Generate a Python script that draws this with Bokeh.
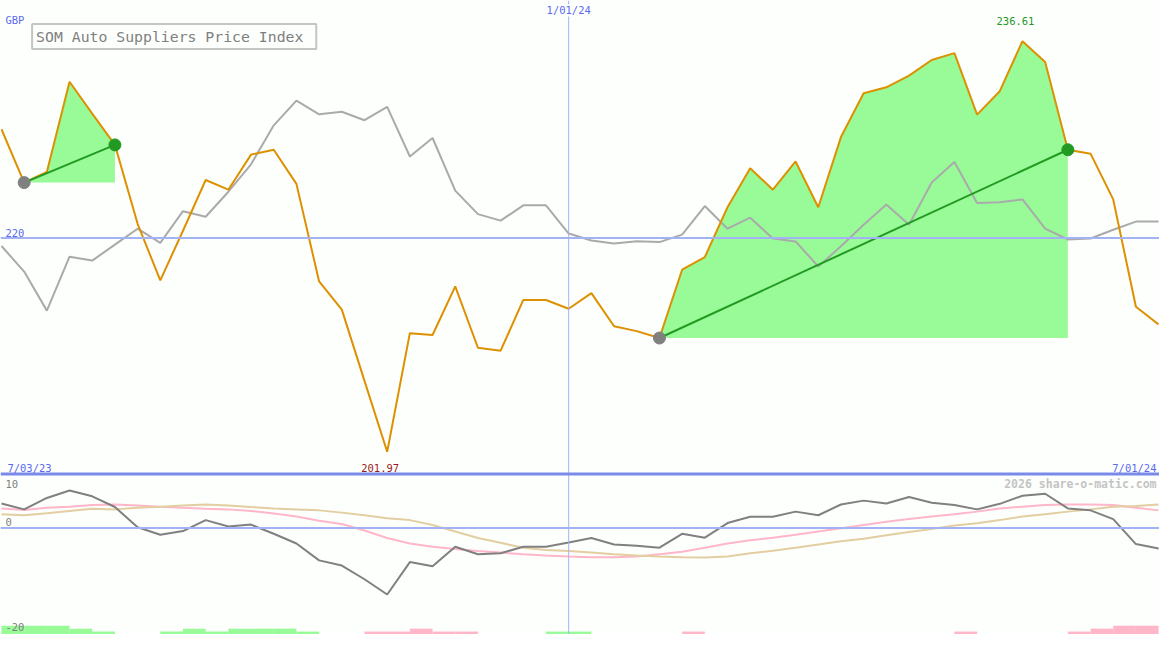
import pandas as pd
from bokeh.plotting import figure
from bokeh.models import Range1d, Span, Label, ColumnDataSource
from bokeh.embed import file_html
from bokeh.resources import INLINE

# ---------------- data ----------------
dates = pd.date_range("2023-07-10", periods=52, freq="7D")

price = [229.18, 224.68, 225.58, 233.19, 230.50, 227.86, 221.20, 216.43, 220.62, 224.90,
         224.08, 227.04, 227.45, 224.57, 216.34, 213.96, 207.95, 201.97, 211.98, 211.82,
         215.93, 210.75, 210.50, 214.78, 214.78, 214.04, 215.36, 212.56, 212.15, 211.57,
         217.33, 218.40, 222.60, 225.89, 224.08, 226.46, 222.60, 228.52, 232.22, 232.72,
         233.70, 235.02, 235.60, 230.41, 232.39, 236.61, 234.86, 227.45, 227.12, 223.26,
         214.20, 212.72]

market = [219.33, 217.17, 213.88, 218.43, 218.10, 219.45, 220.79, 219.59, 222.27, 221.80,
          223.91, 226.22, 229.51, 231.59, 230.44, 230.66, 229.94, 231.07, 226.88, 228.44,
          224.00, 222.02, 221.47, 222.76, 222.76, 220.38, 219.80, 219.55, 219.74, 219.66,
          220.29, 222.70, 220.79, 221.72, 219.96, 219.72, 217.60, 219.31, 221.12, 222.84,
          221.12, 224.68, 226.41, 222.95, 223.03, 223.26, 220.79, 219.88, 219.96, 220.70,
          221.39, 221.39]

momentum = [4.66, 3.54, 5.72, 7.15, 6.03, 3.99, 0.13, -1.30, -0.61, 1.49,
            0.26, 0.63, -1.12, -2.98, -6.20, -7.19, -9.80, -12.72, -6.52, -7.32,
            -3.59, -5.03, -4.84, -3.59, -3.59, -2.79, -1.92, -3.17, -3.41, -3.78,
            -1.12, -1.86, 0.93, 2.12, 2.12, 3.11, 2.42, 4.47, 5.21, 4.66,
            5.90, 4.79, 4.36, 3.54, 4.60, 6.15, 6.52, 3.72, 3.35, 1.68,
            -3.09, -3.91]

fast_avg = [3.72, 3.43, 3.85, 4.04, 4.36, 4.47, 4.28, 4.04, 3.85, 3.67,
            3.54, 3.24, 2.74, 2.18, 1.38, 0.74, -0.48, -1.92, -2.98, -3.59,
            -4.02, -4.39, -4.71, -5.03, -5.27, -5.46, -5.59, -5.59, -5.46, -5.03,
            -4.53, -3.78, -2.98, -2.35, -1.86, -1.30, -0.67, -0.06, 0.56, 1.19,
            1.68, 2.18, 2.61, 3.11, 3.72, 4.04, 4.36, 4.47, 4.47, 4.36,
            3.85, 3.35]

slow_avg = [2.61, 2.42, 2.79, 3.24, 3.67, 3.54, 3.85, 4.04, 4.28, 4.47,
            4.28, 3.99, 3.72, 3.54, 3.35, 2.92, 2.42, 1.86, 1.49, 0.56,
            -0.67, -1.92, -2.85, -3.78, -4.21, -4.39, -4.71, -5.03, -5.27, -5.46,
            -5.59, -5.64, -5.46, -4.84, -4.34, -3.78, -3.17, -2.53, -2.05, -1.42,
            -0.80, -0.19, 0.45, 0.88, 1.49, 2.18, 2.61, 3.11, 3.54, 4.04,
            4.17, 4.47]

signal = [3, 3, 3, 2, 1, 0, 0, 1, 2, 1,
          2, 2, 2, 1, 0, 0, -1, -1, -2, -1,
          -1, 0, 0, 0, 1, 1, 0, 0, 0, 0,
          -1, 0, 0, 0, 0, 0, 0, 0, 0, 0,
          0, 0, -1, 0, 0, 0, 0, -1, -2, -3,
          -3, 0]

rises = [(1, 5), (29, 47)]          # (start index, end index) of highlighted rises
title = "SOM Auto Suppliers Price Index"
currency = "GBP"
ref_level = 220
date_labels = ["7/03/23", "1/01/24", "7/01/24"]
osc_ticks = ["10", "0", "-20"]
credit = "2026 share-o-matic.com"

# ---------------- styling ----------------
BG = "#fdfffd"
BLUE_TXT = "#5a6af0"
LIGHT_BLUE = "#a3b2f2"
SEP_BLUE = "#7a8ae8"
ORANGE = "#dd9000"
GREY = "#aaaaaa"
DGREY = "#808080"
GREEN = "#229a22"
FILL = "#98fb98"
PINK = "#ffb6c8"
TAN = "#e2cea0"
FONT = "DejaVu Sans Mono"

W, H = 1159, 634
ms = [d.value / 1e6 for d in dates]
week = ms[1] - ms[0]
xr = Range1d(ms[0] - 0.043 * week, ms[-1] + 0.04 * week)

p = figure(width=W, height=H, x_range=xr, y_range=Range1d(186.56, 240.04),
           output_backend="svg", toolbar_location=None,
           x_axis_location=None, y_axis_location=None,
           background_fill_color=BG, border_fill_color=BG,
           min_border=0, outline_line_color=None)
p.extra_y_ranges = {"osc": Range1d(-20.35, 100.7)}
p.grid.visible = False

# reference lines
p.add_layout(Span(location=ref_level, dimension="width", line_color=LIGHT_BLUE, line_width=2))
p.add_layout(Span(location=pd.Timestamp("2024-01-01").value / 1e6, dimension="height",
                  line_color=LIGHT_BLUE, line_width=1))
p.add_layout(Span(location=0, dimension="width", y_range_name="osc",
                  line_color=LIGHT_BLUE, line_width=2))
p.add_layout(Span(location=200.1, dimension="width", line_color=SEP_BLUE, line_width=3))

# highlighted rises: fill + trend line + end points
for a, b in rises:
    xs = dates[a:b + 1]
    p.varea(x=xs, y1=[price[a]] * len(xs), y2=price[a:b + 1], fill_color=FILL, fill_alpha=1)

src = ColumnDataSource(dict(x=dates, price=price, market=market, momentum=momentum,
                            fast=fast_avg, slow=slow_avg))
p.line("x", "market", source=src, line_color=GREY, line_width=2)
p.line("x", "price", source=src, line_color=ORANGE, line_width=2)

for a, b in rises:
    p.line(x=[dates[a], dates[b]], y=[price[a], price[b]], line_color=GREEN, line_width=2)
    p.scatter(x=[dates[a]], y=[price[a]], size=12, color=DGREY)
    p.scatter(x=[dates[b]], y=[price[b]], size=12, color=GREEN)

# oscillator panel
p.line("x", "fast", source=src, y_range_name="osc", line_color=PINK, line_width=2)
p.line("x", "slow", source=src, y_range_name="osc", line_color=TAN, line_width=2)
p.line("x", "momentum", source=src, y_range_name="osc", line_color=DGREY, line_width=2)

base = -20.35
step = 0.56
bl, br, bt, bc = [], [], [], []
for k, s in enumerate(signal):
    if s == 0:
        continue
    bl.append(dates[k])
    br.append(dates[k] + pd.Timedelta(days=7))
    bt.append(base + abs(s) * step)
    bc.append(FILL if s > 0 else PINK)
p.quad(left=bl, right=br, bottom=base, top=bt, fill_color=bc, line_color=None,
       y_range_name="osc")

# texts
def lab(text, x, y, color, size="10.5px", align="left", xunits="screen", yname="default",
        **kw):
    p.add_layout(Label(x=x, y=y, x_units=xunits, y_range_name=yname, text=text,
                       text_color=color, text_font=FONT, text_font_size=size,
                       text_align=align, text_baseline="middle", **kw))

lab(currency, 4.9, 238.39, BLUE_TXT)
lab(str(ref_level), 4.9, 220.46, BLUE_TXT)
lab(date_labels[1], pd.Timestamp("2024-01-01").value / 1e6, 239.2, BLUE_TXT,
    align="center", xunits="data", background_fill_color=BG)
lab(date_labels[0], 6.9, 200.63, BLUE_TXT)
lab(date_labels[2], 1156, 200.63, BLUE_TXT, align="right")
lab(f"{min(price):.2f}", ms[price.index(min(price))], 200.63, "#9a1a1a",
    align="center", xunits="data", x_offset=-7)
lab(f"{max(price):.2f}", ms[price.index(max(price))], 238.31, GREEN,
    align="center", xunits="data", x_offset=-7)
lab(osc_ticks[0], 4.9, 8.33, DGREY, yname="osc")
lab(osc_ticks[1], 4.9, 1.07, DGREY, yname="osc")
lab(osc_ticks[2], 4.9, -18.86, DGREY, yname="osc")
lab(credit, 1156, 8.33, "#c4c4c4", size="11.5px", align="right", yname="osc",
    text_font_style="bold")

p.add_layout(Label(x=31.6, y=237.0, x_units="screen", text=title + " ", text_color=DGREY,
                   text_font=FONT, text_font_size="14.8px", text_baseline="middle",
                   text_align="left", padding=4, border_line_color="#c4c4c4",
                   border_line_width=2, background_fill_color=BG))

open("out.html", "w").write(file_html(p, INLINE))
